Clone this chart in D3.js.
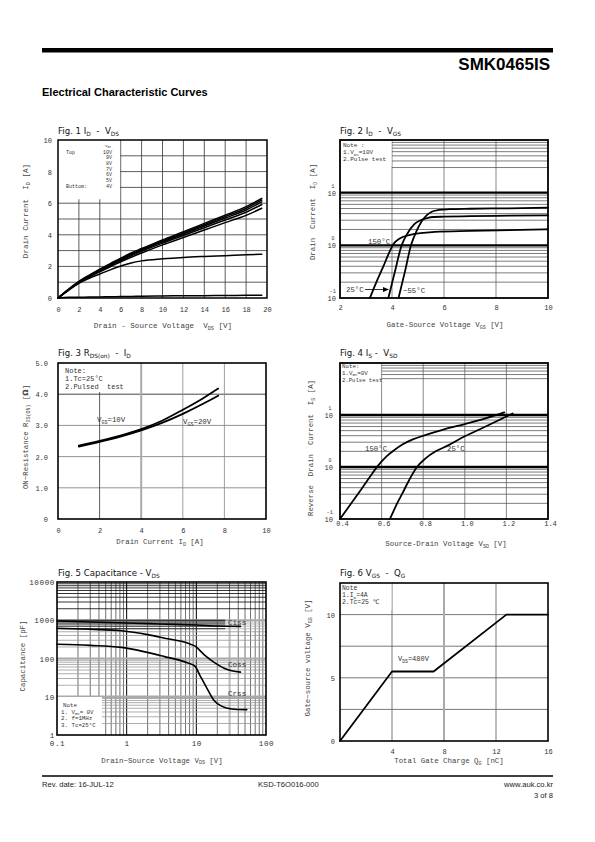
<!DOCTYPE html>
<html><head><meta charset="utf-8">
<script src="https://cdn.jsdelivr.net/npm/d3@7"></script>
<style>
body{margin:0;background:#fff}
svg{display:block}
text{white-space:pre}
</style></head><body>
<svg id="c" width="595" height="842"></svg>
<script>
// ================= DATA =================
// Fig 1  ID - VDS
const fig1Vgs = ["10V","9V","8V","7V","6V","5V","4V"];
const fig1Vds = [0,1,2,3,4,5,6,7,8,10,12,14,16,18,19.5];
const fig1Id10 = [0,0.55,1.05,1.45,1.82,2.18,2.52,2.85,3.13,3.68,4.19,4.72,5.24,5.78,6.3];
const fig1Id9  = [0,0.54,1.03,1.43,1.79,2.14,2.47,2.79,3.07,3.61,4.12,4.64,5.15,5.68,6.2];
const fig1Id8  = [0,0.53,1.02,1.41,1.76,2.1,2.43,2.74,3.02,3.55,4.05,4.56,5.06,5.57,6.08];
const fig1Id7  = [0,0.52,1.0,1.38,1.72,2.05,2.37,2.67,2.95,3.47,3.96,4.45,4.94,5.43,5.92];
const fig1Id6  = [0,0.5,0.97,1.33,1.66,1.98,2.29,2.58,2.85,3.36,3.83,4.3,4.77,5.23,5.68];
const fig1Id5  = [0,0.48,0.93,1.25,1.52,1.78,2.02,2.22,2.35,2.48,2.57,2.63,2.68,2.73,2.77];
const fig1Id4  = [0,0.04,0.05,0.06,0.07,0.08,0.09,0.1,0.11,0.13,0.14,0.15,0.16,0.17,0.18];
const fig1XTicks = [0,2,4,6,8,10,12,14,16,18,20];
const fig1YTicks = [0,2,4,6,8,10];

// Fig 2  ID - VGS
const fig2Vgs150 = [3.15,3.4,3.65,3.85,4.05,4.3,4.7,5.2,5.65,7,8.5,10];
const fig2Id150  = [0.1,0.2,0.38,0.65,1.05,1.35,1.58,1.72,1.8,1.88,1.95,2.02];
const fig2Vgs25  = [3.86,4.1,4.37,4.6,4.85,5.1,5.35,5.6,6,7,8.5,10];
const fig2Id25   = [0.1,0.3,1.0,1.7,2.5,3.0,3.3,3.45,3.5,3.58,3.65,3.72];
const fig2VgsM55 = [4.25,4.5,4.73,4.95,5.15,5.35,5.55,5.8,6.2,7,8.5,10];
const fig2IdM55  = [0.1,0.32,1.0,1.9,2.9,3.8,4.4,4.7,4.85,4.95,5.05,5.2];
const fig2XTicks = [2,4,6,8,10];
const fig2YTicks = [0.1,1,10];

// Fig 3  RDS(on) - ID
const fig3Id   = [1,2,3,4,5,6,7,7.7];
const fig3R10  = [2.35,2.5,2.67,2.88,3.15,3.5,3.88,4.18];
const fig3R20  = [2.32,2.47,2.64,2.84,3.08,3.37,3.7,3.95];
const fig3XTicks = [0,2,4,6,8,10];
const fig3YTicks = [0,1,2,3,4,5];

// Fig 4  IS - VSD
const fig4Vsd150 = [0.4,0.45,0.5,0.55,0.58,0.62,0.66,0.7,0.75,0.81,0.9,1.0,1.1,1.19];
const fig4Is150  = [0.1,0.19,0.36,0.7,1.03,1.55,2.1,2.7,3.4,4.1,5.3,6.7,8.6,11.2];
const fig4Vsd25  = [0.64,0.66,0.68,0.7,0.72,0.77,0.81,0.86,0.92,1.0,1.08,1.15,1.23];
const fig4Is25   = [0.1,0.15,0.22,0.31,0.45,1.0,1.45,2.0,2.6,3.9,5.5,7.5,10.7];
const fig4XTicks = [0.4,0.6,0.8,1.0,1.2,1.4];
const fig4YTicks = [0.1,1,10];

// Fig 5  Capacitance - VDS
const fig5VdsCiss = [0.1,0.3,1,3,10,20,43];
const fig5Ciss    = [960,900,850,800,750,710,690];
const fig5VdsCoss = [0.1,0.3,0.84,2,3.5,7.6,9.6,13,18.7,26,43];
const fig5Coss    = [620,580,530,420,340,250,210,125,76,54,44];
const fig5VdsCrss = [0.1,0.3,0.84,3.5,7.6,9.6,11.2,14.1,17.6,23.4,32,53];
const fig5Crss    = [235,220,195,112,76,62,37,17,8.4,5.6,4.8,4.6];
const fig5XTicks = [0.1,1,10,100];
const fig5YTicks = [1,10,100,1000,10000];

// Fig 6  VGS - QG
const fig6Qg  = [0,4,7.2,12.8,16];
const fig6Vgs = [0,5.5,5.5,10,10];
const fig6XTicks = [4,8,12,16];
const fig6YTicks = [0,5,10];

// ================= DRAWING =================
const MONO = '"Liberation Mono","DejaVu Sans Mono",monospace';
const SANS = '"Liberation Sans",Arial,sans-serif';
const TSANS = '"DejaVu Sans",sans-serif';
const svg = d3.select("#c");
svg.append("rect").attr("width",595).attr("height",842).attr("fill","#fff");

function rich(g, x, y, parts, o={}) {
  const fs = o.fs || 7;
  const t = g.append("text").attr("x",x).attr("y",y)
    .attr("font-family", o.ff || MONO).attr("font-size", fs)
    .attr("fill", o.fill || "#333").attr("text-anchor", o.anchor || "start");
  if (o.rotate) t.attr("transform", `rotate(-90,${x},${y})`);
  if (o.ls != null) t.attr("letter-spacing", o.ls);
  if (o.fw) t.attr("font-weight", o.fw);
  let pend = 0;
  parts.forEach(p => {
    const isArr = Array.isArray(p);
    const s = t.append("tspan").text(isArr ? p[0] : p);
    let off = 0;
    if (isArr) {
      if (p[1] === "sub") { off = fs*0.25; s.attr("font-size", fs*0.68); }
      else if (p[1] === "sup") { off = -fs*0.45; s.attr("font-size", fs*0.68); }
      else if (p[1] === "bold") { s.attr("font-weight","bold").attr("font-family",TSANS); }
    }
    if (off - pend !== 0) s.attr("dy", off - pend);
    pend = off;
  });
  return t;
}
function hline(g, y, xa, xb, c="#444", w=0.7) {
  g.append("line").attr("x1",xa).attr("x2",xb).attr("y1",y).attr("y2",y).attr("stroke",c).attr("stroke-width",w);
}
function vline(g, x, ya, yb, c="#444", w=0.7) {
  g.append("line").attr("x1",x).attr("x2",x).attr("y1",ya).attr("y2",yb).attr("stroke",c).attr("stroke-width",w);
}
function frame(g, x, y, w=1.6) {
  const [x0,x1] = x.range(), [y0,y1] = y.range();
  g.append("rect").attr("x",x0).attr("y",y1).attr("width",x1-x0).attr("height",y0-y1)
    .attr("fill","none").attr("stroke","#000").attr("stroke-width",w);
}
function whiteBox(g, xa, ya, xb, yb) {
  g.append("rect").attr("x",xa).attr("y",ya).attr("width",xb-xa).attr("height",yb-ya).attr("fill","#fff");
}
function xAxis(g, x, yBase, vals, fmt, fs=7, ls=0, dx=0) {
  const a = g.append("g").attr("transform",`translate(${dx},${yBase})`)
    .call(d3.axisBottom(x).tickValues(vals).tickSize(0).tickPadding(0).tickFormat(fmt));
  a.select(".domain").remove();
  a.selectAll("text").attr("y",0).attr("dy",0).attr("font-family",MONO).attr("font-size",fs)
    .attr("fill","#333").attr("letter-spacing",ls);
  return a;
}
function yAxis(g, y, xRight, vals, fmt, fs=7, ls=0) {
  const a = g.append("g").attr("transform",`translate(${xRight},0)`)
    .call(d3.axisLeft(y).tickValues(vals).tickSize(0).tickPadding(0).tickFormat(fmt));
  a.select(".domain").remove();
  a.selectAll("text").attr("x",0).attr("dy","0.35em").attr("font-family",MONO).attr("font-size",fs)
    .attr("fill","#333").attr("letter-spacing",ls);
  return a;
}
function logExp(g, y, xRight, vals) {
  vals.forEach(v => {
    g.append("text").attr("x", xRight-3).attr("y", y(v)-5)
      .attr("font-family",MONO).attr("font-size",4.8).attr("fill","#333").attr("text-anchor","middle")
      .text(v < 1 ? "\u22121" : (v < 10 ? "0" : "1"));
  });
}
function curve(g, x, y, xs, ys, w=1.7, cv=d3.curveMonotoneX) {
  const ln = d3.line().x((d,i)=>x(xs[i])).y(d=>y(d)).curve(cv);
  g.append("path").attr("d", ln(ys)).attr("fill","none").attr("stroke","#000")
    .attr("stroke-width",w).attr("stroke-linejoin","round").attr("stroke-linecap","round");
}
function title(g, x, y, parts) {
  rich(g, x, y, parts, {ff:TSANS, fs:8.6, fill:"#111"});
}

// ---------- header ----------
svg.append("rect").attr("x",42).attr("y",48).attr("width",511).attr("height",4.5).attr("fill","#000");
svg.append("text").attr("x",550).attr("y",70).attr("text-anchor","end").attr("font-family",SANS)
  .attr("font-weight","bold").attr("font-size",17).attr("fill","#000").text("SMK0465IS");
svg.append("text").attr("x",42).attr("y",96).attr("font-family",SANS)
  .attr("font-weight","bold").attr("font-size",11).attr("fill","#000").text("Electrical Characteristic Curves");

// ---------- Fig 1 ----------
{
  const g = svg.append("g");
  const x = d3.scaleLinear().domain([0,20]).range([58,267]);
  const y = d3.scaleLinear().domain([0,10]).range([298,140]);
  d3.range(1,10).forEach(v => hline(g, y(v), x(0), x(20), "#333", 0.8));
  d3.range(2,20,2).forEach(v => vline(g, x(v), y(0), y(10), "#333", 0.8));
  whiteBox(g, x(0), y(10), x(6)-0.6, y(6.25));
  [fig1Id10,fig1Id9,fig1Id8,fig1Id7,fig1Id6,fig1Id5,fig1Id4].forEach(s => curve(g, x, y, fig1Vds, s, 1.5));
  frame(g, x, y, 1.5);
  // legend
  const LS = 5.7, L0 = 153.5;
  rich(g, 66, L0, ["Top"], {fs:5});
  rich(g, 66, L0 + 6*LS, ["Buttom:"], {fs:5});
  rich(g, 111, 146.8, ["V",["GS","sub"]], {fs:4.2, anchor:"end"});
  fig1Vgs.forEach((t,i) => rich(g, 112, L0 + i*LS, [t], {fs:5, anchor:"end"}));
  xAxis(g, x, 312, fig1XTicks, d3.format("d"));
  yAxis(g, y, 52, fig1YTicks, d3.format("d"));
  rich(g, 163, 328, ["Drain - Source Voltage  V",["DS","sub"]," [V]"], {fs:7.6, anchor:"middle", fill:"#444"});
  rich(g, 28, 211, ["Drain Current  I",["D","sub"]," [A]"], {fs:7.6, anchor:"middle", fill:"#444", rotate:true});
  title(g, 58, 134, ["Fig. 1 I",["D","sub"],"  -  V",["DS","sub"]]);
}

// ---------- Fig 2 ----------
{
  const g = svg.append("g");
  const x = d3.scaleLinear().domain([2,10]).range([340,548]);
  const y = d3.scaleLog().domain([0.1,100]).range([298,140]);
  [0.1,1].forEach(d => d3.range(2,10).forEach(k => hline(g, y(k*d), x(2), x(10), "#444", 0.7)));
  d3.range(3,10).forEach(k => hline(g, y(k*10), x(4), x(10), "#444", 0.7));
  [4,6,8].forEach(v => vline(g, x(v), y(0.1), y(100), "#555", 0.7));
  hline(g, y(1), x(2), x(10), "#000", 2.4);
  hline(g, y(10), x(2), x(10), "#000", 2.4);
  whiteBox(g, x(2), y(100), x(4)-0.5, 166);
  curve(g, x, y, fig2Vgs150, fig2Id150, 1.8);
  curve(g, x, y, fig2Vgs25, fig2Id25, 1.8);
  curve(g, x, y, fig2VgsM55, fig2IdM55, 1.8);
  frame(g, x, y, 1.8);
  rich(g, 343, 147, ["Note :"], {fs:6});
  rich(g, 343, 154, ["1.V",["DS","sub"],"=10V"], {fs:6});
  rich(g, 343, 160.5, ["2.Pulse test"], {fs:6});
  rich(g, 368, 244, ["150°C"], {fs:7.4});
  rich(g, 346, 292, ["25°C"], {fs:7.4});
  g.append("line").attr("x1",365).attr("x2",384).attr("y1",289.5).attr("y2",289.5).attr("stroke","#000").attr("stroke-width",0.8);
  g.append("path").attr("d","M389,289.5 L383,287 L383,292 Z").attr("fill","#000");
  rich(g, 403, 293, ["\u221255°C"], {fs:7.4});
  xAxis(g, x, 310, fig2XTicks, d3.format("d"));
  yAxis(g, y, 336, fig2YTicks, () => "10");
  logExp(g, y, 336, fig2YTicks);
  rich(g, 445, 327, ["Gate-Source Voltage V",["GS","sub"]," [V]"], {fs:7.4, anchor:"middle", fill:"#444"});
  rich(g, 315, 212, ["Drain  Current  I",["D","sub"]," [A]"], {fs:7.4, anchor:"middle", fill:"#444", rotate:true});
  title(g, 340, 134, ["Fig. 2 I",["D","sub"],"  -  V",["GS","sub"]]);
}

// ---------- Fig 3 ----------
{
  const g = svg.append("g");
  const x = d3.scaleLinear().domain([0,10]).range([58,266]);
  const y = d3.scaleLinear().domain([0,5]).range([519,363]);
  [1,2,3].forEach(v => hline(g, y(v), x(0), x(10), "#777", 0.8));
  hline(g, y(4), x(0), x(10), "#333", 0.9);
  vline(g, x(2), y(0), y(5), "#333", 0.8);
  vline(g, x(4), y(0), y(5), "#aaa", 2);
  [6,8].forEach(v => vline(g, x(v), y(0), y(5), "#888", 0.8));
  whiteBox(g, x(0), y(5), x(3.47), 392);
  curve(g, x, y, fig3Id, fig3R10, 1.8);
  curve(g, x, y, fig3Id, fig3R20, 1.8);
  frame(g, x, y, 1.6);
  rich(g, 65, 373, ["Note:"], {fs:7});
  rich(g, 65, 381, ["1.Tc=25°C"], {fs:7});
  rich(g, 65, 389, ["2.Pulsed  test"], {fs:7});
  rich(g, 97, 422, ["V",["GS","sub"],"=10V"], {fs:7.4});
  rich(g, 183, 424, ["V",["GS","sub"],"=20V"], {fs:7.4});
  xAxis(g, x, 533, fig3XTicks, d3.format("d"));
  yAxis(g, y, 48, fig3YTicks, v => v === 0 ? "0" : v.toFixed(1));
  rich(g, 160, 544, ["Drain Current I",["D","sub"]," [A]"], {fs:7.4, anchor:"middle", fill:"#444"});
  rich(g, 28, 437, ["ON\u2212Resistance R",["DS(ON)","sub"]," [",["\u03A9","bold"],"]"], {fs:7.4, anchor:"middle", fill:"#444", rotate:true});
  title(g, 58, 356, ["Fig. 3 R",["DS(on)","sub"],"  -  I",["D","sub"]]);
}

// ---------- Fig 4 ----------
{
  const g = svg.append("g");
  const x = d3.scaleLinear().domain([0.4,1.4]).range([340,548]);
  const y = d3.scaleLog().domain([0.1,100]).range([519,363]);
  [0.1,1].forEach(d => d3.range(2,10).forEach(k => hline(g, y(k*d), x(0.4), x(1.4), "#444", 0.7)));
  d3.range(5,10).forEach(k => hline(g, y(k*10), x(0.6), x(1.4), "#444", 0.7));
  [0.6,0.8,1.0,1.2].forEach(v => vline(g, x(v), y(0.1), y(100), "#555", 0.7));
  hline(g, y(1), x(0.4), x(1.4), "#000", 2.4);
  hline(g, y(10), x(0.4), x(1.4), "#000", 2.4);
  whiteBox(g, x(0.4), y(100), x(0.6)-0.5, 385);
  curve(g, x, y, fig4Vsd150, fig4Is150, 1.8);
  curve(g, x, y, fig4Vsd25, fig4Is25, 1.8);
  frame(g, x, y, 1.8);
  rich(g, 342, 368, ["Note:"], {fs:5.8});
  rich(g, 342, 374.5, ["1.V",["GS","sub"],"=0V"], {fs:5.8});
  rich(g, 342, 381.5, ["2.Pulse test"], {fs:5.6});
  rich(g, 365, 451, ["150°C"], {fs:7.4});
  rich(g, 447, 451, ["25°C"], {fs:7.4});
  xAxis(g, x, 526, fig4XTicks, d3.format(".1f"), 7, 0, 2);
  yAxis(g, y, 333, fig4YTicks, () => "10");
  logExp(g, y, 333, fig4YTicks);
  rich(g, 446, 546, ["Source-Drain Voltage V",["SD","sub"]," [V]"], {fs:7.4, anchor:"middle", fill:"#444"});
  rich(g, 313, 448, ["Reverse  Drain  Current  I",["S","sub"]," [A]"], {fs:7.4, anchor:"middle", fill:"#444", rotate:true});
  title(g, 340, 356, ["Fig. 4 I",["S","sub"]," -  V",["SD","sub"]]);
}

// ---------- Fig 5 ----------
{
  const g = svg.append("g");
  const x = d3.scaleLog().domain([0.1,100]).range([57,266]);
  const y = d3.scaleLog().domain([1,10000]).range([735,582]);
  [0.1,1,10].forEach(d => d3.range(2,10).forEach(k => vline(g, x(k*d), y(1), y(10000), "#333", 0.7)));
  [1,10].forEach(v => vline(g, x(v), y(1), y(10000), "#000", 1));
  vline(g, x(30), y(1), y(1000), "#bbb", 2);
  d3.range(2,10).forEach(k => hline(g, y(k*1000), x(0.1), x(100), "#000", 0.8));
  hline(g, y(1000), x(0.1), x(100), "#aaa", 2.2);
  hline(g, y(1000), x(0.1), x(26), "#000", 0.9);
  [600,700,800,900].forEach(v => { hline(g, y(v), x(0.1), x(100), "#aaa", 0.8); hline(g, y(v), x(0.1), x(26), "#000", 0.8); });
  [200,300,400,500].forEach(v => hline(g, y(v), x(0.1), x(100), "#999", 0.8));
  hline(g, y(100), x(0.1), x(100), "#aaa", 2);
  d3.range(2,10).forEach(k => hline(g, y(k*10), x(0.1), x(100), "#999", 0.8));
  hline(g, y(10), x(0.1), x(100), "#aaa", 2.4);
  d3.range(2,10).forEach(k => hline(g, y(k), x(0.1), x(100), "#999", 0.8));
  whiteBox(g, x(0.1), 697, 102, y(1));
  curve(g, x, y, fig5VdsCiss, fig5Ciss, 1.6);
  curve(g, x, y, fig5VdsCoss, fig5Coss, 1.6);
  curve(g, x, y, fig5VdsCrss, fig5Crss, 1.6);
  frame(g, x, y, 1.6);
  rich(g, 63, 707, ["Note"], {fs:5.8});
  rich(g, 61, 713.5, ["1. V",["GS","sub"],"= 0V"], {fs:5.8});
  rich(g, 61, 720, ["2. f=1MHz"], {fs:5.8});
  rich(g, 61, 726.5, ["3. Tc=25°C"], {fs:5.8});
  rich(g, 228, 625, ["Ciss"], {fs:7.6});
  rich(g, 228, 667, ["Coss"], {fs:7.6});
  rich(g, 228, 695.5, ["Crss"], {fs:7.6});
  xAxis(g, x, 746, fig5XTicks, d => d < 1 ? "0.1" : String(d), 7.6, 0.6);
  yAxis(g, y, 55, fig5YTicks, d => String(d), 7.6, 0.6);
  rich(g, 162, 762.5, ["Drain\u2212Source Voltage V",["DS","sub"]," [V]"], {fs:7.4, anchor:"middle", fill:"#444"});
  rich(g, 25, 656, ["Capacitance [pF]"], {fs:7.4, anchor:"middle", fill:"#444", rotate:true});
  title(g, 58, 575.5, ["Fig. 5 Capacitance - V",["DS","sub"]]);
}

// ---------- Fig 6 ----------
{
  const g = svg.append("g");
  const x = d3.scaleLinear().domain([0,16]).range([340,548]);
  const y = d3.scaleLinear().domain([0,12.5]).range([741,583]);
  [2.5,5,7.5,10].forEach(v => hline(g, y(v), x(0), x(16), "#555", 0.8));
  vline(g, x(4), y(0), y(12.5), "#555", 0.8);
  vline(g, x(8), y(0), y(12.5), "#aaa", 2);
  vline(g, x(12), y(0), y(12.5), "#555", 0.8);
  whiteBox(g, x(0), y(12.5), x(4)-0.5, 610);
  curve(g, x, y, fig6Qg, fig6Vgs, 1.8, d3.curveLinear);
  frame(g, x, y, 1.6);
  rich(g, 342, 590, ["Note"], {fs:6.4});
  rich(g, 342, 597, ["1.I",["D","sub"],"=4A"], {fs:6.4});
  rich(g, 342, 604, ["2.Tc=25 \u2103"], {fs:6.4});
  rich(g, 398, 661, ["V",["DS","sub"],"=480V"], {fs:7});
  xAxis(g, x, 754, fig6XTicks, d3.format("d"));
  yAxis(g, y, 335, fig6YTicks, d3.format("d"));
  rich(g, 449, 763, ["Total Gate Charge Q",["G","sub"]," [nC]"], {fs:7.4, anchor:"middle", fill:"#444"});
  rich(g, 310, 658, ["Gate\u2212source voltage V",["GS","sub"]," [V]"], {fs:7.4, anchor:"middle", fill:"#444", rotate:true});
  title(g, 340, 576, ["Fig. 6 V",["GS","sub"],"  -  Q",["G","sub"]]);
}

// ---------- footer ----------
svg.append("line").attr("x1",42).attr("x2",553).attr("y1",776).attr("y2",776).attr("stroke","#000").attr("stroke-width",1.3);
const foot = (x,y,t,a) => svg.append("text").attr("x",x).attr("y",y).attr("text-anchor",a)
  .attr("font-family",SANS).attr("font-size",7.6).attr("fill","#222").text(t);
foot(42, 787, "Rev. date: 16-JUL-12", "start");
foot(258, 787, "KSD-T6O016-000", "start");
foot(553, 787, "www.auk.co.kr", "end");
foot(553, 798, "3 of 8", "end");
</script>
</body></html>
